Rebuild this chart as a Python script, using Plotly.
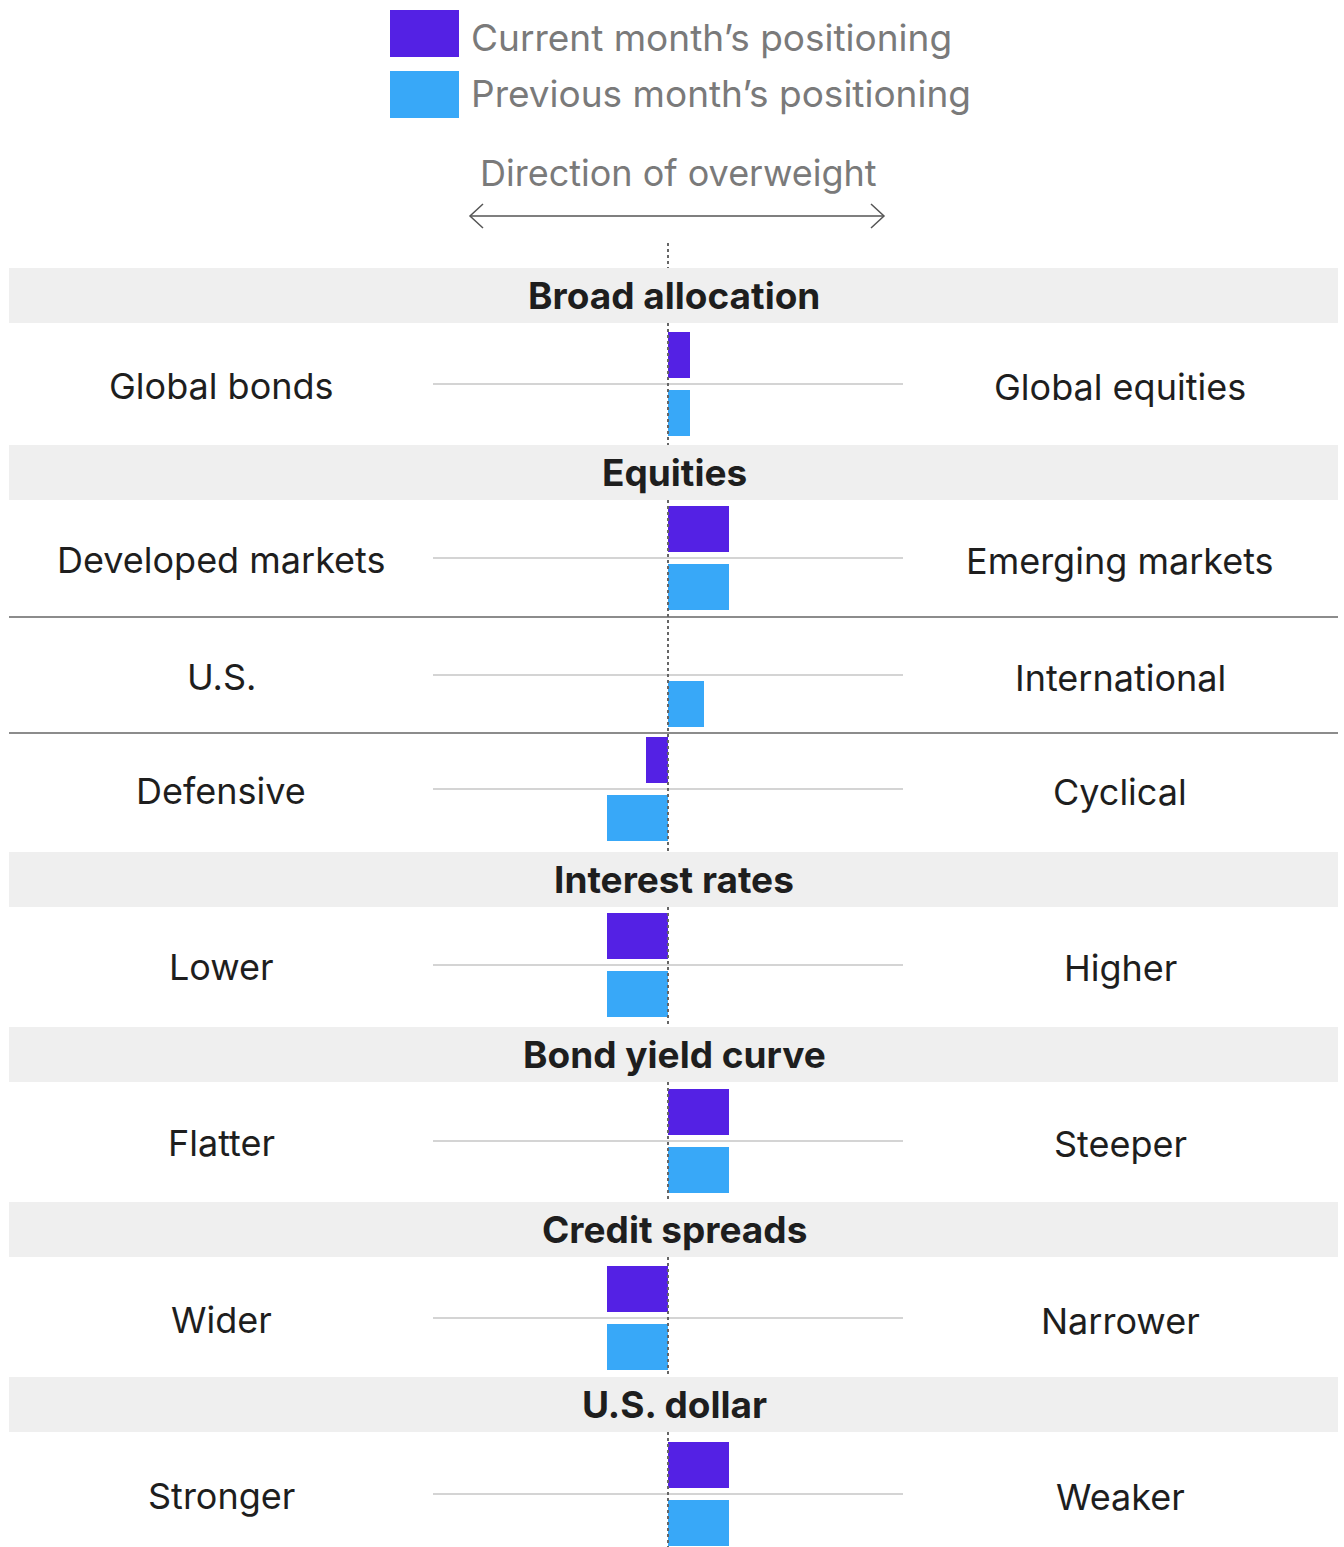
import plotly.graph_objects as go

# ---------------- data ----------------
left_labels = ["Global bonds", "Developed markets", "U.S.", "Defensive",
               "Lower", "Flatter", "Wider", "Stronger"]
right_labels = ["Global equities", "Emerging markets", "International", "Cyclical",
                "Higher", "Steeper", "Narrower", "Weaker"]
current_pos = [0.094, 0.26, 0.0, -0.094, -0.26, 0.26, -0.26, 0.26]
previous_pos = [0.094, 0.26, 0.155, -0.26, -0.26, 0.26, -0.26, 0.26]
section_titles = ["Broad allocation", "Equities", "Interest rates",
                  "Bond yield curve", "Credit spreads", "U.S. dollar"]
legend_names = ["Current month\u2019s positioning", "Previous month\u2019s positioning"]
direction_title = "Direction of overweight"

# ---------------- layout (pixel positions) ----------------
W, H = 1344, 1547
CX = 668          # pixel of zero
UNIT = 235        # pixels per data unit
def X(p):
    return (p - CX) / UNIT

row_y = [384, 558, 675, 789, 965, 1141, 1318, 1494]
band_top = [268, 445, 852, 1027, 1202, 1377]
BAND_H = 55
separators = [617, 733]
OFF = 29
BAR_W = 46

C_CUR = "#5421E4"
C_PREV = "#38A8F8"
FONT = "Inter"

fig = go.Figure()
fig.add_trace(go.Bar(
    orientation="h", x=current_pos, y=[y - OFF for y in row_y], width=BAR_W,
    marker=dict(color=C_CUR, line=dict(width=0)), name=legend_names[0],
    showlegend=False, hoverinfo="skip"))
fig.add_trace(go.Bar(
    orientation="h", x=previous_pos, y=[y + OFF for y in row_y], width=BAR_W,
    marker=dict(color=C_PREV, line=dict(width=0)), name=legend_names[1],
    showlegend=False, hoverinfo="skip"))

shapes = []
anns = []

# header bands
for t, title in zip(band_top, section_titles):
    shapes.append(dict(type="rect", xref="x", yref="y", x0=X(9), x1=X(1338),
                       y0=t, y1=t + BAND_H, fillcolor="#EFEFEF", line=dict(width=0),
                       layer="below"))
    anns.append(dict(x=X(674), y=t + BAND_H / 2, xref="x", yref="y", text="<b>%s</b>" % title,
                     showarrow=False, xanchor="center", yanchor="middle",
                     font=dict(family=FONT, size=37, color="#1E1E1E")))

# separators
for s in separators:
    shapes.append(dict(type="line", xref="x", yref="y", x0=X(9), x1=X(1338), y0=s, y1=s,
                       line=dict(color="#8C8C8C", width=2), layer="below"))

# row grey lines and labels
for y, l, r in zip(row_y, left_labels, right_labels):
    shapes.append(dict(type="line", xref="x", yref="y", x0=-1, x1=1, y0=y, y1=y,
                       line=dict(color="#D4D4D4", width=2), layer="below"))
    anns.append(dict(x=X(221), y=y + 2, xref="x", yref="y", text=l, showarrow=False,
                     xanchor="center", yanchor="middle",
                     font=dict(family=FONT, size=36, color="#1E1E1E")))
    anns.append(dict(x=X(1120), y=y + 3, xref="x", yref="y", text=r, showarrow=False,
                     xanchor="center", yanchor="middle",
                     font=dict(family=FONT, size=36, color="#1E1E1E")))

# dotted zero line, segments between bands
segs = [(243, band_top[0])]
for i in range(len(band_top)):
    start = band_top[i] + BAND_H
    end = band_top[i + 1] if i + 1 < len(band_top) else H
    segs.append((start, end))
for a, b in segs:
    shapes.append(dict(type="line", xref="x", yref="y", x0=0, x1=0, y0=a, y1=b,
                       line=dict(color="#666666", width=2, dash="dot"), layer="above"))

# direction arrow
shapes.append(dict(type="line", xref="x", yref="y", x0=X(470), x1=X(884), y0=216, y1=216,
                   line=dict(color="#555555", width=1.5)))
shapes.append(dict(type="path", xref="x", yref="y",
                   path="M %f,204 L %f,216 L %f,228" % (X(483), X(470), X(483)),
                   line=dict(color="#555555", width=1.5)))
shapes.append(dict(type="path", xref="x", yref="y",
                   path="M %f,204 L %f,216 L %f,228" % (X(871), X(884), X(871)),
                   line=dict(color="#555555", width=1.5)))
anns.append(dict(x=X(678), y=173, xref="x", yref="y", text=direction_title, showarrow=False,
                 xanchor="center", yanchor="middle",
                 font=dict(family=FONT, size=36, color="#7A7A7A")))

# legend
for (y0, y1), col, name, ty in zip([(10, 57), (71, 118)], [C_CUR, C_PREV], legend_names, [37, 93]):
    shapes.append(dict(type="rect", xref="x", yref="y", x0=X(390), x1=X(459), y0=y0, y1=y1,
                       fillcolor=col, line=dict(width=0)))
    anns.append(dict(x=X(469), y=ty, xref="x", yref="y", text=name, showarrow=False,
                     xanchor="left", yanchor="middle",
                     font=dict(family=FONT, size=37, color="#7A7A7A")))

fig.update_layout(
    width=W, height=H, margin=dict(l=0, r=0, t=0, b=0),
    plot_bgcolor="white", paper_bgcolor="white",
    xaxis=dict(range=[X(0), X(W)], visible=False, fixedrange=True),
    yaxis=dict(range=[H, 0], visible=False, fixedrange=True),
    shapes=shapes, annotations=anns, bargap=0, barmode="overlay",
)
fig.write_html("out.html")
